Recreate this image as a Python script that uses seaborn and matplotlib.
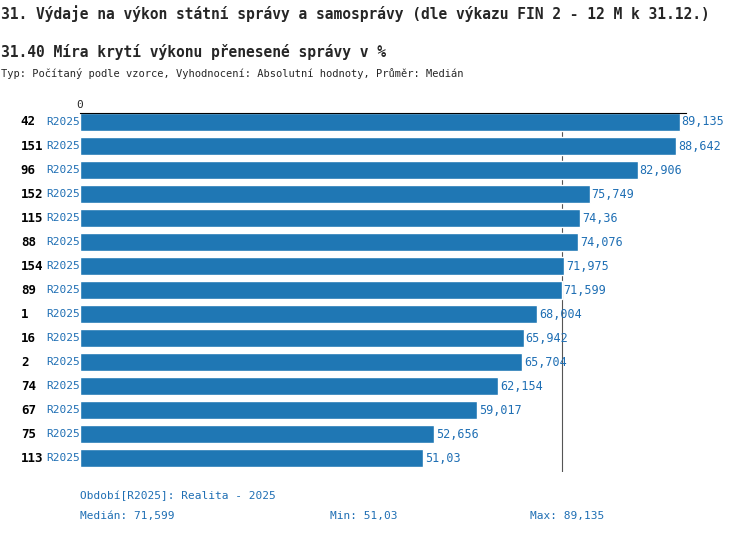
import matplotlib
matplotlib.use("Agg")
import matplotlib.pyplot as plt
import seaborn as sns
import pandas as pd

sns.set_style("white")
plt.rcParams["font.family"] = ["DejaVu Sans Mono"]

df = pd.DataFrame({
    "id": ["42", "151", "96", "152", "115", "88", "154", "89", "1", "16", "2", "74", "67", "75", "113"],
    "value": [89.135, 88.642, 82.906, 75.749, 74.36, 74.076, 71.975, 71.599, 68.004, 65.942,
              65.704, 62.154, 59.017, 52.656, 51.03],
})
median = df["value"].median()
blue = "#1f77b4"
txtblue = "#1f6fb4"

fig = plt.figure(figsize=(7.5, 5.34), dpi=100)
ax = fig.add_axes([0.1067, 0.1161, 0.808, 0.6723])
sns.barplot(data=df, x="value", y="id", color=blue, saturation=1, width=0.72, ax=ax, orient="h")
ax.set_xlim(0, 90.1)
ax.set_ylim(14.58, -0.375)
for s in ["right", "bottom", "left"]:
    ax.spines[s].set_visible(False)
ax.spines["top"].set_color("black")
ax.xaxis.tick_top()
ax.set_xticks([0])
ax.tick_params(axis="x", length=0, labelsize=8, pad=2)
ax.set_yticks([])
ax.set_xlabel("")
ax.set_ylabel("")
ax.axvline(median, color="#555555", lw=0.8, zorder=0.5)

for i, (name, v) in enumerate(zip(df["id"], df["value"])):
    ax.text(v + 0.3, i, f"{v:g}".replace(".", ","), va="center", ha="left", fontsize=8.5, color=txtblue)
    ax.text(-8.8, i, name, va="center", ha="left", fontsize=9, fontweight="bold", color="black")
    ax.text(-5.0, i, "R2025", va="center", ha="left", fontsize=8, color=txtblue)

fig.text(0.001, 0.975, "31. Výdaje na výkon státní správy a samosprávy (dle výkazu FIN 2 - 12 M k 31.12.)",
         fontsize=10.5, fontweight="bold", va="center")
fig.text(0.001, 0.903, "31.40 Míra krytí výkonu přenesené správy v %", fontsize=10.5, fontweight="bold", va="center")
fig.text(0.001, 0.863, "Typ: Počítaný podle vzorce, Vyhodnocení: Absolutní hodnoty, Průměr: Medián",
         fontsize=7.5, va="center")
fig.text(0.1067, 0.071, "Období[R2025]: Realita - 2025", fontsize=8, color=txtblue, va="center")
fig.text(0.1067, 0.033, "Medián: " + f"{median:g}".replace(".", ","), fontsize=8, color=txtblue, va="center")
fig.text(0.44, 0.033, "Min: " + f"{df['value'].min():g}".replace(".", ","), fontsize=8, color=txtblue, va="center")
fig.text(0.707, 0.033, "Max: " + f"{df['value'].max():g}".replace(".", ","), fontsize=8, color=txtblue, va="center")

fig.savefig("out.png", dpi=100)
